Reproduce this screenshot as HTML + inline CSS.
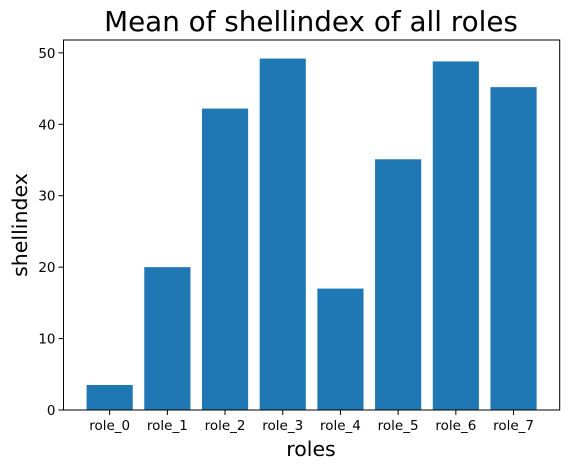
<!DOCTYPE html>
<html><head><meta charset="utf-8"><style>
body{margin:0;background:#fff;font-family:"DejaVu Sans","Liberation Sans",sans-serif}
</style></head><body>
<svg id="c" width="568" height="469" xmlns="http://www.w3.org/2000/svg" font-family="DejaVu Sans, Liberation Sans, sans-serif">
<text x="311" y="31" text-anchor="middle" font-size="27.8">Mean of shellindex of all roles</text>
<text x="311" y="456" text-anchor="middle" font-size="20.5">roles</text>
<text transform="translate(27,225) rotate(-90)" text-anchor="middle" font-size="20.5">shellindex</text>
<g id="bars"></g><g id="axes"></g>
</svg>
<script>
const categories=["role_0","role_1","role_2","role_3","role_4","role_5","role_6","role_7"];
const values=[3.5,20,42.2,49.2,17,35.1,48.8,45.2];
const yTicks=[0,10,20,30,40,50];
const L=63.5,R=559.7,T=40,B=410,yMax=51.8;
const xs=i=>L+(i+0.8)*(R-L)/8.6;
const ys=v=>B-v*(B-T)/yMax;
const bw=0.8*(R-L)/8.6;
const NS="http://www.w3.org/2000/svg";
const bars=document.getElementById('bars'),axes=document.getElementById('axes');
function mk(t,a,p){const e=document.createElementNS(NS,t);for(const k in a)e.setAttribute(k,a[k]);p.appendChild(e);return e;}
values.forEach((v,i)=>{
 const r=mk('rect',{x:xs(i)-bw/2,y:ys(v),width:bw,height:B-ys(v),fill:'#1f77b4'},bars);
 
 
 const tk=mk('line',{x1:xs(i),x2:xs(i),y1:B,y2:B+5,stroke:'#000'},axes);
 
 
 const t=mk('text',{x:xs(i),y:B+20,'text-anchor':'middle','font-size':13.5},axes);
 t.textContent=categories[i];
 
 
});
yTicks.forEach(v=>{
 const tk=mk('line',{x1:L-5,x2:L,y1:ys(v),y2:ys(v),stroke:'#000'},axes);
 
 
 const t=mk('text',{x:L-8,y:ys(v)+5,'text-anchor':'end','font-size':13.5},axes);
 t.textContent=v;
 
 
});
const f=mk('rect',{x:L,y:T,width:R-L,height:B-T,fill:'none',stroke:'#000','stroke-width':1},axes);


</script>
</body></html>
